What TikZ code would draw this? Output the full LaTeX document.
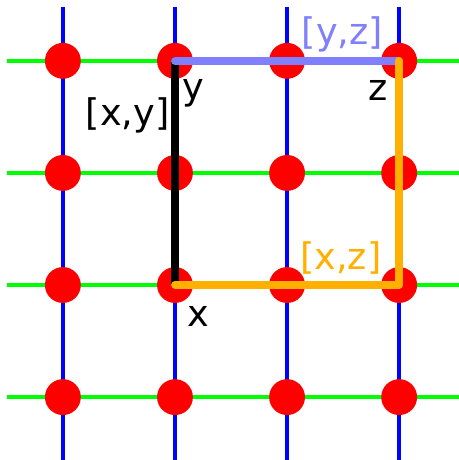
\documentclass[tikz,border=0pt]{standalone}
\usepackage{fontspec}
\setmainfont{DejaVu Sans}
\definecolor{latgreen}{RGB}{0,255,0}
\definecolor{yzblue}{RGB}{128,128,255}
\definecolor{xzorange}{RGB}{255,176,0}
\begin{document}
\begin{tikzpicture}[
    site/.style={circle, fill=red, inner sep=0pt, minimum size=0.32cm},
    link/.style={line width=2pt, line cap=round, line join=round},
    lbl/.style={font=\fontsize{9.3}{11}\selectfont, inner sep=0pt}]
    \useasboundingbox (-0.561,-0.561) rectangle (3.526,3.543);
    % lattice
    \foreach \i in {0,...,3} {
        \draw[blue, line width=1pt] (\i,-0.6) -- (\i,3.48);
        \draw[latgreen, line width=1pt] (-0.5,\i) -- (3.6,\i);
    }
    % sites
    \foreach \i in {0,...,3}
        \foreach \j in {0,...,3}
            \node[site] (p-\i-\j) at (\i,\j) {};
    % intervals
    \draw[link, black] (p-1-1.center) -- (p-1-3.center);
    \draw[link, yzblue] (p-1-3.center) -- (p-3-3.center);
    \draw[link, xzorange] (p-3-3.center) -- (p-3-1.center) -- (p-1-1.center);
    % labels
    \node[lbl] (x) at (1.207,0.721) {x};
    \node[lbl] (y) at (1.167,2.707) {y};
    \node[lbl] (z) at (2.81,2.734) {z};
    \node[lbl] (xy) at (0.579,2.515) {[x,y]};
    \node[lbl, text=yzblue] (yz) at (2.493,3.232) {[y,z]};
    \node[lbl, text=xzorange] (xz) at (2.48,1.242) {[x,z]};
\end{tikzpicture}
\end{document}
